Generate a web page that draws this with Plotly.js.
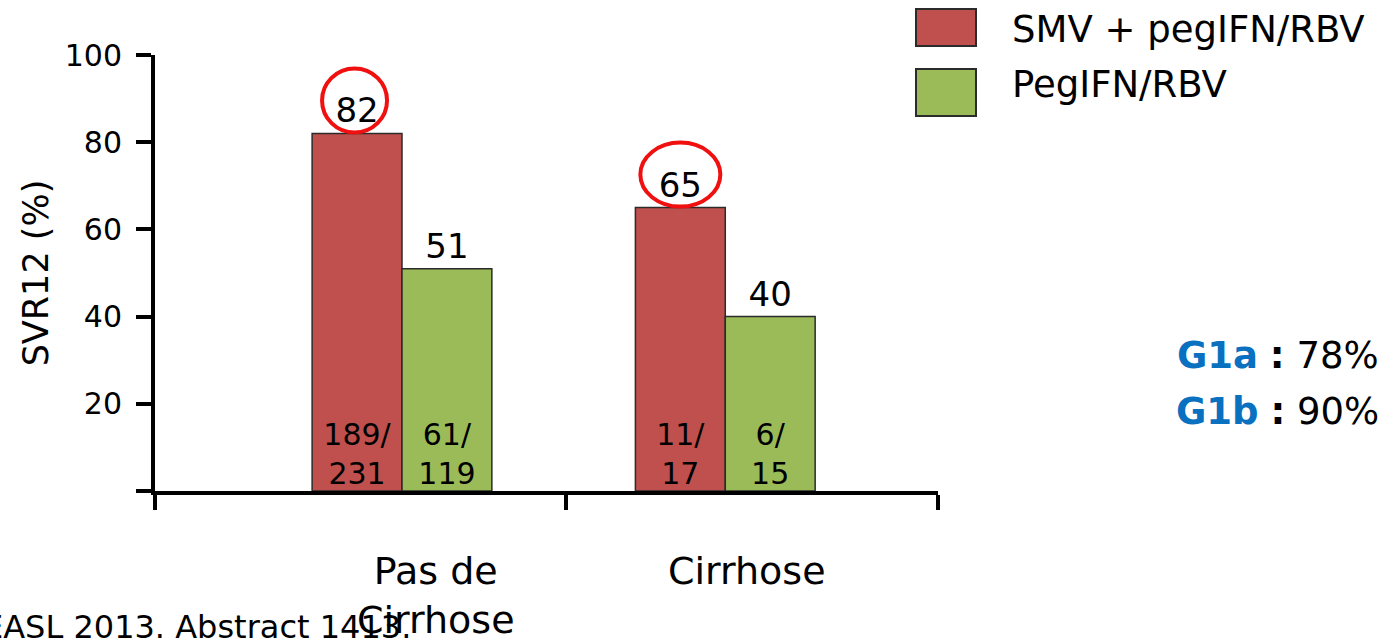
<!DOCTYPE html>
<html>
<head>
<meta charset="utf-8">
<script src="https://cdn.plot.ly/plotly-3.0.1.min.js"></script>
<style>
  html, body { margin: 0; padding: 0; background: #fff; }
  #chart { width: 1391px; height: 641px; }
</style>
</head>
<body>
<div id="chart"></div>
<script>
// SVR12 by cirrhosis status, simeprevir + pegIFN/RBV vs pegIFN/RBV
const categories = ["Pas de<br>Cirrhose", "Cirrhose"];
const seriesNames = ["SMV + pegIFN/RBV", "PegIFN/RBV"];
const smvValues = [82, 65];
const pegValues = [51, 40];
const smvCounts = ["189/<br>231", "11/<br>17"];
const pegCounts = ["61/<br>119", "6/<br>15"];
const yTicks = [0, 20, 40, 60, 80, 100];
const yTickText = ["", "20", "40", "60", "80", "100"];
const genotypeLabels = ["G1a", "G1b"];
const genotypeRates = ["78%", "90%"];
const footnote = "EASL 2013. Abstract 1413.";

const RED = "#c0504d";
const GREEN = "#9bbb59";
const OUTLINE = "#2b2b2b";
const FONT = "DejaVu Sans, Liberation Sans, sans-serif";

const W = 1391, H = 641;
const M = { l: 155, r: 453, t: 55, b: 150 };
const plotW = W - M.l - M.r, plotH = H - M.t - M.b;
const px = x => (x - M.l) / plotW;          // page pixel -> paper x
const py = y => (H - M.b - y) / plotH;      // page pixel -> paper y

const xIdx = categories.map((_, i) => i);
const barW = 0.278;
const xRange = [-0.764, 1.658];

const traces = [
  {
    type: "bar", name: seriesNames[0], x: xIdx, y: smvValues,
    width: barW, offset: -barW,
    marker: { color: RED, line: { color: OUTLINE, width: 1.5 } },
    text: smvValues.map(String), textposition: "outside",
    textfont: { family: FONT, size: 34, color: "#000" },
    cliponaxis: false, hoverinfo: "skip"
  },
  {
    type: "bar", name: seriesNames[1], x: xIdx, y: pegValues,
    width: barW, offset: 0,
    marker: { color: GREEN, line: { color: OUTLINE, width: 1.5 } },
    text: pegValues.map(String), textposition: "outside",
    textfont: { family: FONT, size: 34, color: "#000" },
    cliponaxis: false, hoverinfo: "skip"
  },
  {
    type: "scatter", mode: "text",
    x: xIdx.map(i => i - barW / 2), y: xIdx.map(() => 0),
    text: smvCounts, textposition: "top center",
    textfont: { family: FONT, size: 30, color: "#000" },
    cliponaxis: false, hoverinfo: "skip"
  },
  {
    type: "scatter", mode: "text",
    x: xIdx.map(i => i + barW / 2), y: xIdx.map(() => 0),
    text: pegCounts, textposition: "top center",
    textfont: { family: FONT, size: 30, color: "#000" },
    cliponaxis: false, hoverinfo: "skip"
  }
];

const annotations = [];
const shapes = [];

// category labels under the axis
const catShift = [34, 22];
categories.forEach((c, i) => {
  annotations.push({
    x: xIdx[i], xref: "x", xshift: catShift[i],
    y: py(547), yref: "paper", yanchor: "top", xanchor: "center",
    text: c, showarrow: false,
    font: { family: FONT, size: 38, color: "#000" }
  });
});

// legend drawn as boxes + labels
const legendBoxes = [[9, 46], [69, 116]];
const legendTextY = [29, 84];
const legendColors = [RED, GREEN];
seriesNames.forEach((n, i) => {
  shapes.push({
    type: "rect", xref: "paper", yref: "paper",
    x0: px(916), x1: px(976), y0: py(legendBoxes[i][1]), y1: py(legendBoxes[i][0]),
    fillcolor: legendColors[i], line: { color: OUTLINE, width: 2 }
  });
  annotations.push({
    x: px(1010), xref: "paper", xanchor: "left",
    y: py(legendTextY[i]), yref: "paper", yanchor: "middle",
    text: n, showarrow: false,
    font: { family: FONT, size: 37, color: "#000" }
  });
});

// highlight rings on the combination arm values
smvValues.forEach((v, i) => {
  const hw = i === 0 ? [-35, 30] : [-40, 40];
  shapes.push({
    type: "circle", xref: "x", yref: "y",
    xsizemode: "pixel", xanchor: xIdx[i] - barW / 2, x0: hw[0], x1: hw[1],
    ysizemode: "pixel", yanchor: v, y0: 1, y1: 65,
    line: { color: "#f01010", width: 4 }
  });
});

// genotype breakdown
const gY = [355, 411];
genotypeLabels.forEach((g, i) => {
  annotations.push({
    x: px(1381), xref: "paper", xanchor: "right",
    y: py(gY[i]), yref: "paper", yanchor: "middle",
    text: '<b><span style="color:#0a70c0">' + g + '</span></b> <b>:</b> ' + genotypeRates[i],
    showarrow: false,
    font: { family: FONT, size: 37, color: "#000" }
  });
});

// source line
annotations.push({
  x: px(-19), xref: "paper", xanchor: "left",
  y: py(627), yref: "paper", yanchor: "middle",
  text: footnote, showarrow: false,
  font: { family: FONT, size: 32, color: "#000" }
});

const layout = {
  width: W, height: H,
  margin: M,
  paper_bgcolor: "#fff", plot_bgcolor: "#fff",
  showlegend: false,
  barmode: "overlay",
  font: { family: FONT, color: "#000" },
  xaxis: {
    type: "linear", range: xRange, fixedrange: true,
    showgrid: false, zeroline: false,
    showline: true, linecolor: "#000", linewidth: 4,
    tickmode: "array", tickvals: [xRange[0], 0.507, xRange[1]], ticktext: ["", "", ""],
    ticks: "outside", ticklen: 15, tickwidth: 4, tickcolor: "#000"
  },
  yaxis: {
    range: [0, 100], fixedrange: true,
    showgrid: false, zeroline: false,
    showline: true, linecolor: "#000", linewidth: 4,
    tickmode: "array", tickvals: yTicks, ticktext: yTickText,
    ticks: "outside", ticklen: 15, tickwidth: 4, tickcolor: "#000",
    ticklabelstandoff: 8,
    tickfont: { family: FONT, size: 30, color: "#000" },
    title: { text: "SVR12 (%)", standoff: 6, font: { family: FONT, size: 35, color: "#000" } }
  },
  annotations: annotations,
  shapes: shapes
};

Plotly.newPlot("chart", traces, layout, { staticPlot: true, displayModeBar: false });
</script>
</body>
</html>
